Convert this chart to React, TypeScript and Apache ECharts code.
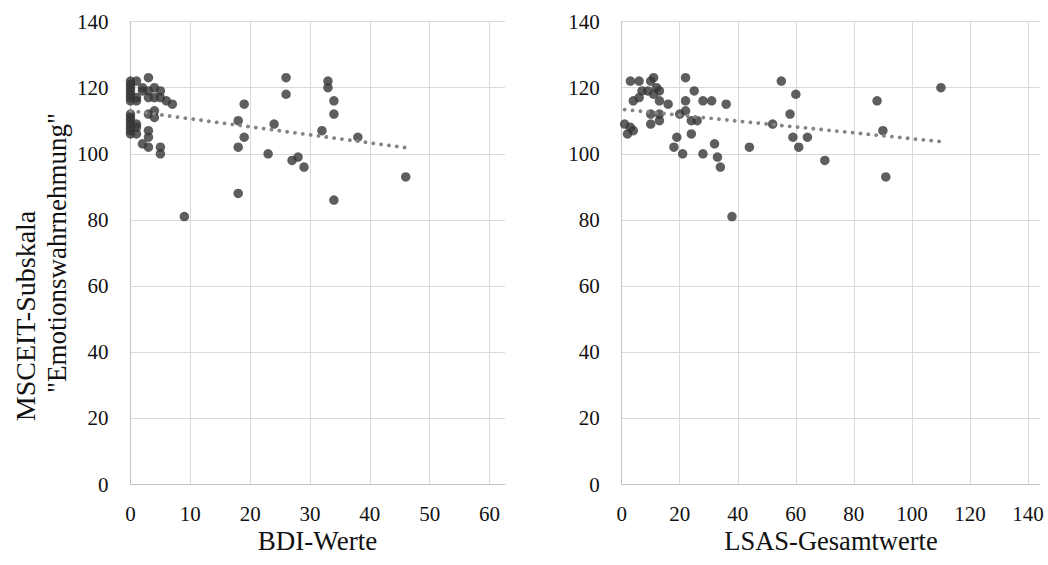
import React, { useEffect, useRef } from "react";
import * as echarts from "echarts";

// BDI (left panel) – x values and MSCEIT "Emotionswahrnehmung" values
const bdiX = [
  0, 0, 0, 0, 0, 0, 0, 0, 0, 0, 0, 0, 0, 0,
  1, 1, 1, 1, 1, 1,
  2, 2, 2,
  3, 3, 3, 3, 3, 3, 3,
  4, 4, 4, 4,
  5, 5, 5, 5,
  6,
  7, 9, 18, 19, 19, 18, 18, 23, 24, 26, 26, 27, 28, 29, 32, 33, 33, 34, 34, 34, 38, 46,
];
const bdiY = [
  122, 121, 120, 119, 118, 117, 116, 112, 111, 110, 109, 108, 107, 106,
  122, 117, 116, 109, 108, 106,
  120, 119, 103,
  123, 119, 117, 112, 107, 105, 102,
  120, 117, 113, 111,
  119, 117, 102, 100,
  116,
  115, 81, 110, 115, 105, 102, 88, 100, 109, 123, 118, 98, 99, 96, 107, 122, 120, 116, 112, 86, 105, 93,
];

// LSAS (right panel)
const lsasX = [
  3, 6, 10, 11, 22, 7, 9, 12, 13, 4, 6, 11, 13, 16, 25, 22, 22, 28, 31, 36,
  20, 10, 13, 10, 13, 1, 3, 4, 2, 24, 26, 24, 19, 18, 21, 28, 32, 33, 34, 44,
  38, 52, 55, 60, 58, 59, 61, 64, 70, 88, 90, 91, 110,
];
const lsasY = [
  122, 122, 122, 123, 123, 119, 119, 120, 119, 116, 117, 118, 116, 115, 119, 116, 113, 116, 116, 115,
  112, 112, 112, 109, 110, 109, 108, 107, 106, 110, 110, 106, 105, 102, 100, 100, 103, 99, 96, 102,
  81, 109, 122, 118, 112, 105, 102, 105, 98, 116, 107, 93, 120,
];

const yMin = 0, yMax = 140, yStep = 20;
const bdiMax = 60, bdiStep = 10;
const lsasMax = 140, lsasStep = 20;

const yTitleLine1 = "MSCEIT-Subskala";
const yTitleLine2 = '"Emotionswahrnehmung"';
const bdiTitle = "BDI-Werte";
const lsasTitle = "LSAS-Gesamtwerte";

function trend(xs: number[], ys: number[]): number[][] {
  const n = xs.length;
  let sx = 0, sy = 0, sxy = 0, sxx = 0;
  for (let i = 0; i < n; i++) {
    sx += xs[i]; sy += ys[i]; sxy += xs[i] * ys[i]; sxx += xs[i] * xs[i];
  }
  const b = (sxy - (sx * sy) / n) / (sxx - (sx * sx) / n);
  const a = sy / n - (b * sx) / n;
  const x0 = Math.min(...xs), x1 = Math.max(...xs);
  return [[x0, a + b * x0], [x1, a + b * x1]];
}

const FONT = "Liberation Serif";
const TXT = "#111111";
const GRID = "#d9d9d9";
const AXIS = "#c4c4c4";

export default function App() {
  const ref = useRef<HTMLDivElement>(null);
  useEffect(() => {
    const chart = echarts.init(ref.current!, undefined, { renderer: "svg" });
    const top = 21.5, height = 463;
    const L = { left: 130.5, inner: 359, full: 374.5 };
    const R = { left: 621.7, inner: 406.3, full: 418.3 };
    const labelStyle = { fontFamily: FONT, fontSize: 21, color: TXT };

    const fullX = (gi: number, w: number, inner: number, max: number) => ({
      type: "value", gridIndex: gi, min: 0, max: (max * w) / inner,
      axisLabel: { show: false }, axisTick: { show: false }, splitLine: { show: false },
      axisLine: { show: true, lineStyle: { color: AXIS, width: 1 } },
    });
    const innerX = (gi: number, max: number, step: number) => ({
      type: "value", gridIndex: gi, min: 0, max, interval: step,
      axisLine: { show: false }, axisTick: { show: false },
      splitLine: { show: true, lineStyle: { color: GRID, width: 1 } },
      axisLabel: { ...labelStyle, margin: 19 },
    });
    const fullY = (gi: number) => ({
      type: "value", gridIndex: gi, min: yMin, max: yMax, interval: yStep,
      axisLine: { show: true, lineStyle: { color: AXIS, width: 1 } }, axisTick: { show: false },
      splitLine: { show: true, lineStyle: { color: GRID, width: 1 } },
      axisLabel: { ...labelStyle, margin: 22 },
    });
    const hiddenY = (gi: number) => ({
      type: "value", gridIndex: gi, min: yMin, max: yMax, interval: yStep, show: false,
    });

    const scatter = (xs: number[], ys: number[], ai: number) => ({
      type: "scatter", xAxisIndex: ai, yAxisIndex: ai, symbolSize: 9.5, z: 3,
      itemStyle: { color: "#363636" },
      data: xs.map((x, i) => [x, ys[i]]),
    });
    const line = (xs: number[], ys: number[], ai: number) => ({
      type: "line", xAxisIndex: ai, yAxisIndex: ai, showSymbol: false, symbol: "none", z: 4,
      lineStyle: { color: "#858585", width: 3.8, type: [0.1, 7.8], cap: "round" },
      data: trend(xs, ys),
    });

    chart.setOption({
      animation: false,
      backgroundColor: "#ffffff",
      grid: [
        { left: L.left, top, width: L.full, height },
        { left: L.left, top, width: L.inner, height },
        { left: R.left, top, width: R.full, height },
        { left: R.left, top, width: R.inner, height },
      ],
      xAxis: [
        fullX(0, L.full, L.inner, bdiMax),
        innerX(1, bdiMax, bdiStep),
        fullX(2, R.full, R.inner, lsasMax),
        innerX(3, lsasMax, lsasStep),
      ],
      yAxis: [fullY(0), hiddenY(1), fullY(2), hiddenY(3)],
      series: [
        scatter(bdiX, bdiY, 1),
        line(bdiX, bdiY, 1),
        scatter(lsasX, lsasY, 3),
        line(lsasX, lsasY, 3),
      ],
      graphic: [
        {
          type: "text", x: 25, y: 316, rotation: Math.PI / 2,
          style: {
            text: yTitleLine1, fontFamily: FONT, fontSize: 28,
            fill: TXT, align: "center", verticalAlign: "middle",
          },
        },
        {
          type: "text", x: 57, y: 253, rotation: Math.PI / 2,
          style: {
            text: yTitleLine2, fontFamily: FONT, fontSize: 27,
            fill: TXT, align: "center", verticalAlign: "middle",
          },
        },
        {
          type: "text", x: 317.5, y: 541,
          style: { text: bdiTitle, fontFamily: FONT, fontSize: 27, fill: TXT, align: "center", verticalAlign: "middle" },
        },
        {
          type: "text", x: 831, y: 541,
          style: { text: lsasTitle, fontFamily: FONT, fontSize: 26.5, fill: TXT, align: "center", verticalAlign: "middle" },
        },
      ],
    });
    return () => chart.dispose();
  }, []);
  return (
    <div
      ref={ref}
      style={{ position: "absolute", left: 0, top: 0, width: 1048, height: 565, background: "#fff" }}
    />
  );
}
